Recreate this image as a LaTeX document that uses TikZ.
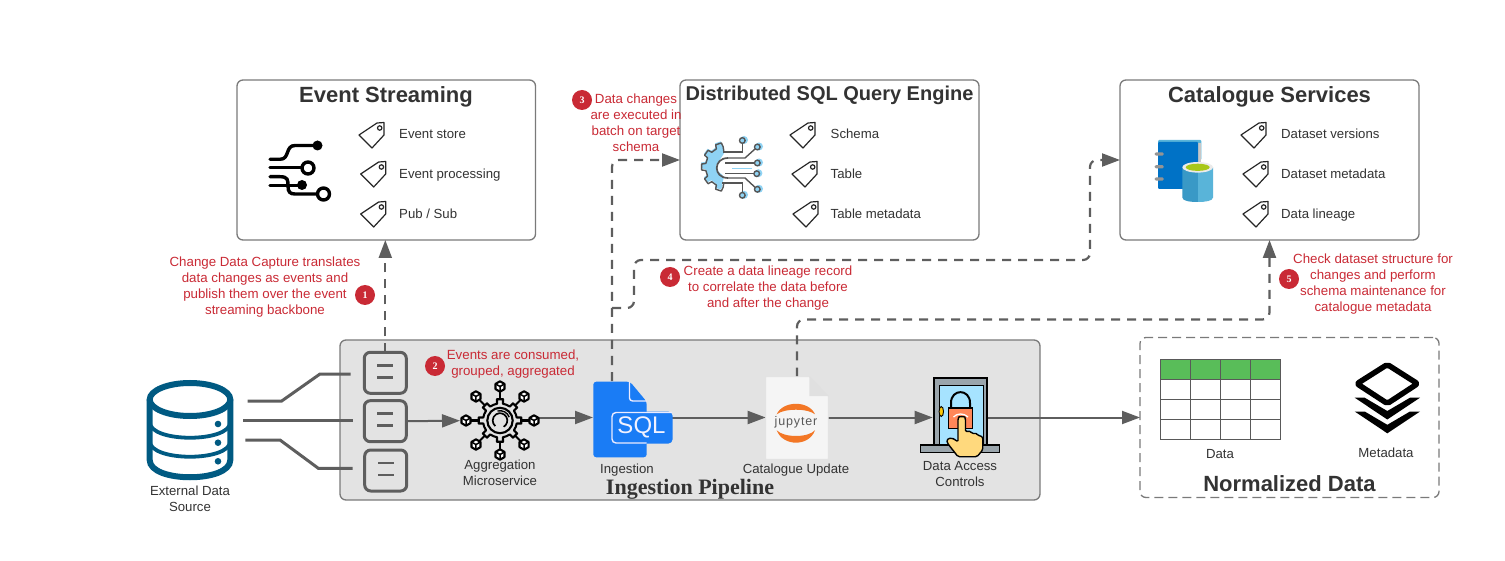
\documentclass[tikz,border=0pt]{standalone}
\usepackage{fontspec}
\setmainfont{Liberation Sans}
\newfontfamily\serifbold{Liberation Serif}
\usetikzlibrary{arrows.meta,calc}
\definecolor{ink}{HTML}{333333}
\definecolor{edge}{HTML}{7A7A7A}
\definecolor{conn}{HTML}{5E5E5E}
\definecolor{redtxt}{HTML}{C92A35}
\definecolor{dbblue}{HTML}{005A82}
\definecolor{sqlblue}{HTML}{1A7CF5}
\definecolor{joran}{HTML}{F37726}
\definecolor{gearblue}{HTML}{8FD3F4}
\definecolor{gearline}{HTML}{555555}
\definecolor{bookb}{HTML}{0072C6}
\definecolor{booktop}{HTML}{59B4D9}
\definecolor{cylL}{HTML}{3999C6}
\definecolor{cylR}{HTML}{59B4D9}
\definecolor{cylG}{HTML}{A8C718}
\definecolor{doorg}{HTML}{9AA5AC}
\definecolor{doorb}{HTML}{A6E3FF}
\definecolor{handy}{HTML}{FFD97D}
\tikzset{
  x=1pt,y=-1pt,
  panel/.style={draw=edge,line width=1.3pt,rounded corners=6pt,inner sep=0,outer sep=0,fill=white},
  slot/.style={inner sep=0,outer sep=0},
  title/.style={font=\fontsize{22}{26}\selectfont\bfseries,text=ink,anchor=base},
  item/.style={font=\fontsize{13.2}{16}\selectfont,text=ink,anchor=base west,inner sep=0},
  capt/.style={font=\fontsize{13.2}{16}\selectfont,text=ink,align=center},
  redlabel/.style={font=\fontsize{13.3}{16}\selectfont,text=redtxt,align=center},
  badge/.style={circle,fill=redtxt,text=white,minimum size=20pt,inner sep=0,font=\serifbold\fontsize{10}{10}\selectfont\bfseries},
  flow/.style={draw=conn,line width=2pt,-{Triangle[length=18pt,width=13pt]}},
  dflow/.style={draw=conn,line width=2.2pt,dash pattern=on 9pt off 7pt,rounded corners=7pt,-{Triangle[length=18pt,width=13pt]}},
  feed/.style={draw=conn,line width=3pt},
  queue/.style={draw=conn,line width=3pt,rounded corners=6pt,inner sep=0,outer sep=0,fill=none,minimum width=42pt,minimum height=41pt},
  bar/.style={draw=conn,line width=2.4pt},
  tagi/.pic={\draw[line width=1.2pt,draw=black!85,line join=round] (-13,0) -- (5,-12) -- (12,-12.5) -- (12,0) -- (0,13) -- cycle;
     \draw[line width=1.2pt,draw=black!85] (7.7,-7) circle[radius=2.2pt];},
}
\begin{document}
\begin{tikzpicture}
\useasboundingbox (0,0) rectangle (1505,561);
% panels
\node[panel,minimum width=298.5pt,minimum height=160pt] (evbox) at (386.25,160) {};
\node[panel,minimum width=299pt,minimum height=160pt] (sqlbox) at (829.5,160) {};
\node[panel,minimum width=299pt,minimum height=160pt] (catbox) at (1269.5,160) {};
\node[panel,fill=black!11,minimum width=700pt,minimum height=160pt] (ingest) at (690,420) {};
\node[panel,draw=edge,dash pattern=on 9pt off 5pt,minimum width=299pt,minimum height=160pt] (norm) at (1289.5,417.5) {};
% titles
\node[title] (t1) at (386,103) {Event Streaming};
\node[title,font=\fontsize{20}{26}\selectfont\bfseries] (t2) at (829.5,101) {Distributed SQL Query Engine};
\node[title] (t3) at (1269.5,103) {Catalogue Services};
\node[title] (t4) at (1289.5,491.5) {Normalized Data};
\node[anchor=base,text=ink,font=\serifbold\fontsize{22}{26}\selectfont\bfseries] (t5) at (690,494) {Ingestion Pipeline};
% tags
\pic at (372,135) {tagi};\pic at (373.7,174) {tagi};\pic at (373.7,214) {tagi};
\pic at (803,135) {tagi};\pic at (805,174) {tagi};\pic at (806,214) {tagi};
\pic at (1254,135) {tagi};\pic at (1256,174) {tagi};\pic at (1256,214) {tagi};
\node[item] (i1) at (399,139) {Event store};
\node[item] (i2) at (399,179) {Event processing};
\node[item] (i3) at (399,219) {Pub / Sub};
\node[item] (i4) at (830.5,139) {Schema};
\node[item] (i5) at (830.5,179) {Table};
\node[item] (i6) at (830.5,219) {Table metadata};
\node[item] (i7) at (1281,139) {Dataset versions};
\node[item] (i8) at (1281,179) {Dataset metadata};
\node[item] (i9) at (1281,219) {Data lineage};
% event streaming icon
\begin{scope}[line width=3.4pt,line cap=round,draw=black]
\draw (270,159.3) -- (280,159.3) .. controls (290,159.3) and (285,145.5) .. (295,145.5) -- (317,145.5);
\fill (317.5,145.5) circle[radius=5pt];
\draw (270,167.7) -- (302,167.7);
\draw (308,168) circle[radius=6pt];
\draw (270,176.7) -- (280,176.7) .. controls (288,176.7) and (288,180) .. (288,186) .. controls (288,192) and (290,194) .. (295,194) -- (317,194);
\draw (323.5,194) circle[radius=6pt];
\draw (270,185.3) -- (300,185.3);
\fill (302,185) circle[radius=5pt];
\end{scope}
% SQL engine gear icon
\begin{scope}[shift={(726,167)}]
\fill[gearblue,shift={(-.5,-1.5)}] (100:20) \foreach \a in {108,144,180,216,252} { -- (\a-10:20.5) -- (\a-7:24.5) -- (\a+7:24.5) -- (\a+10:20.5)} -- (262:20) -- (262:12) -- (180:9.5) -- (98:12) -- cycle;
\fill[white] (4,0) ellipse[x radius=13.3pt,y radius=9pt];
\draw[draw=gearline,line width=1.4pt,line join=round] (98:15.5) \foreach \a in {108,144,180,216,252} { -- (\a-10:20.5) -- (\a-7:24.5) -- (\a+7:24.5) -- (\a+10:20.5)} -- (262:15.5);
\end{scope}
\begin{scope}[line width=1.4pt,draw=gearline]
\foreach \px/\py in {742.3/140.5,757.3/147,757.3/163,756.7/173.7,757.3/189.3,742.3/195.3}{
  \fill[gearblue] (\px+1.7,\py-.5) circle[radius=4pt];
  \draw (\px,\py) circle[radius=2.8pt];}
\draw (742.3,143.3) -- (742.3,152) -- (723,152);
\draw (755,149) -- (745,158) -- (728,158);
\draw (725,163) -- (754.5,163);
\draw (725,173.7) -- (754,173.7);
\draw (755,187.3) -- (745,178) -- (728,178);
\draw (742.3,192.5) -- (742.3,183) -- (722,183);
\draw[draw=gearline,line width=1.7pt] (728,158) .. controls (713,158) and (713,178) .. (728,178);
\draw[draw=gearblue,line width=1.2pt] (732,168.5) -- (752,168.5);
\end{scope}
% catalogue icon
\fill[booktop,rounded corners=1pt] (1158,140) rectangle (1201.3,160);
\fill[black!22] (1198,143) rectangle (1201.3,170);
\fill[bookb,rounded corners=1pt] (1158,142) -- (1198,142) -- (1198,189) -- (1158,189) -- cycle;
\foreach \y in {154,166.7,179}{\fill[black!42,rounded corners=1.2pt] (1154.7,\y-1.6) rectangle (1163.7,\y+1.6);}
\fill[cylL] (1182.3,167.3) -- (1198,167.3) -- (1198,202) .. controls (1190,202) and (1182.3,201) .. (1182.3,197.5) -- cycle;
\fill[cylR] (1198,167.3) -- (1213,167.3) -- (1213,197.5) .. controls (1213,201) and (1205,202) .. (1198,202) -- cycle;
\fill[black!8] (1197.7,167.3) ellipse[x radius=15.4pt,y radius=5.3pt];
\fill[cylG] (1197.7,167.3) ellipse[x radius=12pt,y radius=3.6pt];
% connectors (under icons)
\coordinate (c3) at (612,381);
\coordinate (j4) at (612,308);
\coordinate (t4c) at (634,260);
\coordinate (t5c) at (1090,260);
\node[queue] (q1) at (385.3,372.8) {};
\node[queue] (q2) at (385.3,421.2) {};
\node[queue] (q3) at (385.7,470.5) {};
\foreach \y in {365.3,377.3,413.3,425.3}{\draw[bar] (377.3,\y) -- (393.3,\y);}
\foreach \y in {462.7,474.7}{\draw[bar] (378,\y) -- (394,\y);}
\node[slot,minimum width=87pt,minimum height=100pt] (db) at (190,430) {};
\node[slot,minimum width=78pt,minimum height=78pt] (agg) at (500,420.7) {};
\node[slot,minimum width=79pt,minimum height=76pt] (sql) at (632.5,417.5) {};
\node[slot,minimum width=62.6pt,minimum height=82pt] (jup) at (797,417.5) {};
\node[slot,minimum width=55.6pt,minimum height=68pt] (door) at (960.5,417.5) {};
\draw[dflow] (q1.north) -- (q1.north |- evbox.south);
\draw[dflow] (c3) |- (sqlbox.west);
\draw[dflow] (j4) -| (t4c) -- (t5c) |- (catbox.west);
\draw[dflow] (jup.north) -- ++(0,-57) -| (catbox.south);
\coordinate (a1) at (247.7,401); \coordinate (a2) at (281.7,401); \coordinate (a3) at (320,374); \coordinate (a4) at (350.7,374);
\coordinate (b1) at (243.3,420.7); \coordinate (b2) at (352.7,420.7);
\coordinate (e1) at (245.3,440); \coordinate (e2) at (280,440); \coordinate (e3) at (318.3,468.3); \coordinate (e4) at (352.7,468.3);
\draw[feed] (a1) -- (a2) -- (a3) -- (a4);
\draw[feed] (b1) -- (b2);
\draw[feed] (e1) -- (e2) -- (e3) -- (e4);
\draw[flow] (q2.east) -- ([xshift=-1pt]agg.west);
\draw[flow] (agg.east |- sql.west) -- (sql.west);
\draw[flow] (sql.east) -- (jup.west);
\draw[flow] (jup.east) -- (door.west);
\draw[flow] (door.east) -- (norm.west);
% database icon
\begin{scope}[draw=dbblue]
\draw[line width=6pt] (190,399.5) ellipse[x radius=40.3pt,y radius=16.5pt];
\draw[line width=6pt] (149.7,399.5) -- (149.7,460) .. controls (149.7,483) and (230.3,483) .. (230.3,460) -- (230.3,399.5);
\draw[line width=3.8pt] (149.7,422) .. controls (149.7,443) and (230.3,443) .. (230.3,422);
\draw[line width=3.8pt] (149.7,441) .. controls (149.7,462) and (230.3,462) .. (230.3,441);
\end{scope}
\fill[dbblue] (218,424) circle[radius=3.3pt] (218,442.7) circle[radius=3.3pt] (218,461.3) circle[radius=3.3pt];
% aggregation icon
\begin{scope}[shift={(500,420.5)},line width=2.1pt,draw=black]
\draw[line join=round] (22.5:17) \foreach \a in {45,90,...,360} { -- (\a-10:17) -- (\a-8:21.5) -- (\a+8:21.5) -- (\a+10:17) -- (\a+22.5:17)} -- cycle;
\draw (0,0) circle[radius=12.7pt];
\draw[line width=1.7pt] (0,0) ++(-60:7.3pt) arc[start angle=-60,delta angle=290,radius=7.3pt];
\draw[line width=1.4pt] (0,0) ++(20:9.8pt) arc[start angle=20,delta angle=85,radius=9.8pt];
\foreach \a in {0,45,...,315}{
  \draw (\a:21.5) -- (\a:29);
  \begin{scope}[shift={(\a:34)},line width=2.1pt]
  \draw[fill=white,line join=round] (30:5.2) -- (90:5.2) -- (150:5.2) -- (210:5.2) -- (270:5.2) -- (330:5.2) -- cycle;
  \draw[line width=1.5pt] (0,0) -- (90:5.2) (0,0) -- (210:5.2) (0,0) -- (330:5.2);
  \end{scope}
}
\end{scope}
% SQL file icon
\fill[sqlblue,rounded corners=3pt] (593.3,381.7) -- (630,381.7) -- (646.7,401.7) -- (646.7,457.3) -- (593.3,457.3) -- cycle;
\draw[draw=blue!8,line width=1.4pt,rounded corners=3pt] (629.5,381.7) -- (629.5,401) -- (646.7,401);
\fill[sqlblue,rounded corners=4pt] (611,411.7) rectangle (672.5,443.5);
\draw[draw=blue!8,line width=1.4pt,rounded corners=4pt] (672,412.5) -- (612,412.5) -- (612,443) -- (646.7,443);
\node[slot,text=blue!5,font=\fontsize{24}{24}\selectfont] (sqlt) at (641.5,427.5) {SQL};
% jupyter icon
\fill[black!4] (765.7,376.7) -- (809.3,376.7) -- (828.3,396) -- (828.3,459.3) -- (765.7,459.3) -- cycle;
\draw[black!12,line width=.8pt] (765.7,376.7) -- (809.3,376.7) -- (828.3,396) -- (828.3,459.3) -- (765.7,459.3) -- cycle;
\fill[black!12] (809.3,376.7) -- (828.3,396) -- (809.3,396) -- cycle;
\fill[joran] (776.7,414.3) .. controls (783,400.3) and (809,400.3) .. (815,414.3) .. controls (808,408.2) and (784,408.2) .. (776.7,414.3) -- cycle;
\fill[joran] (776.7,430.3) .. controls (783,446.8) and (809,446.8) .. (815,430.3) .. controls (808,437.9) and (784,437.9) .. (776.7,430.3) -- cycle;
\node[slot,text=black!65,font=\fontsize{12.5}{14}\selectfont\addfontfeature{LetterSpace=7}] (jupt) at (796,422.5) {jupyter};
% door icon
\fill[doorg] (933.3,377.7) rectangle (987.7,447);
\fill[doorb] (939,385) rectangle (983,447);
\draw[black,line width=1.8pt] (934,447) -- (934,378.2) -- (987,378.2) -- (987,447);
\draw[black,line width=1pt] (939,447) -- (939,385) -- (983,385) -- (983,447);
\fill[yellow!60!orange,draw=black,line width=.9pt] (941.3,411.5) ellipse[x radius=2.2pt,y radius=5pt];
\draw[black,line width=2pt] (951,408) -- (951,403) .. controls (951,388.5) and (970,388.5) .. (970,403) -- (970,408);
\fill[red!45!orange!65!white,draw=black,line width=1.3pt] (948.3,408) rectangle (972.3,428.7);
\draw[white,line width=1.3pt] (953.5,417) .. controls (957,413) and (964,413) .. (968,417);
\fill[doorg,draw=black,line width=1.5pt] (920.5,445) rectangle (999.5,452.5);
\fill[handy,draw=black,line width=1.4pt,line join=round,rounded corners=1.5pt] (958,418.5) .. controls (959,416.5) and (964.5,416.5) .. (965.5,418.5) -- (965.5,432) .. controls (968,431) and (971,431) .. (972,434) .. controls (975,433) and (977,433.5) .. (978,436) .. controls (981,435.5) and (982.7,437) .. (982.7,440) -- (982.7,450) -- (977,456.7) -- (958,456.7) -- (947.3,443) .. controls (946.5,438) and (952,436.5) .. (958,442) -- cycle;
% table
\fill[green!60!black!65!white] (1160.3,359.3) rectangle (1280.3,379.3);
\draw[draw=black!65,line width=1.2pt] (1160.3,359.3) rectangle (1280.3,439.3);
\foreach \x in {1190.3,1220.3,1250.3}{\draw[draw=black!65,line width=1.2pt] (\x,359.3) -- (\x,439.3);}
\foreach \y in {379.3,399.3,419.3}{\draw[draw=black!65,line width=1.2pt] (1160.3,\y) -- (1280.3,\y);}
% layers
\draw[black,line width=5.5pt,line join=round,rounded corners=2pt] (1387.3,364.5) -- (1417.5,383.7) -- (1387.3,403.5) -- (1357,383.7) -- cycle;
\fill[black] (1354.7,397.7) -- (1364.7,397.7) -- (1387.3,411) -- (1410,397.7) -- (1420,397.7) -- (1387.3,419.5) -- cycle;
\fill[black] (1354.7,411.5) -- (1364.7,411.5) -- (1387.3,424.8) -- (1410,411.5) -- (1420,411.5) -- (1387.3,433.3) -- cycle;
% captions
\node[capt] (n1) at (190,499) {External Data\\[0pt]Source};
\node[capt] (n2) at (500,473) {Aggregation\\[0pt]Microservice};
\node[capt,anchor=base] (n3) at (627,473) {Ingestion};
\node[capt,anchor=base] (n4) at (796,473) {Catalogue Update};
\node[capt] (n5) at (960,474) {Data Access\\[0pt]Controls};
\node[capt,anchor=base] (n6) at (1220,458.5) {Data};
\node[capt,anchor=base] (n7) at (1386,457.5) {Metadata};
% red notes
\node[redlabel] (l1) at (265,287.5) {Change Data Capture translates\\data changes as events and\\publish them over the event\\streaming backbone};
\node[badge] (b1n) at (365,295) {1};
\node[redlabel] (l2) at (513,364.5) {Events are consumed,\\grouped, aggregated};
\node[badge] (b2n) at (435,366) {2};
\node[redlabel] (l3) at (636,123) {Data changes\\are executed in\\batch on target\\schema};
\node[badge] (b3n) at (582,100) {3};
\node[redlabel] (l4) at (768,288.5) {Create a data lineage record\\to correlate the data before\\and after the change};
\node[badge] (b4n) at (670,277) {4};
\node[redlabel] (l5) at (1373,284) {Check dataset structure for\\changes and perform\\schema maintenance for\\catalogue metadata};
\node[badge] (b5n) at (1289,279) {5};
\end{tikzpicture}
\end{document}
